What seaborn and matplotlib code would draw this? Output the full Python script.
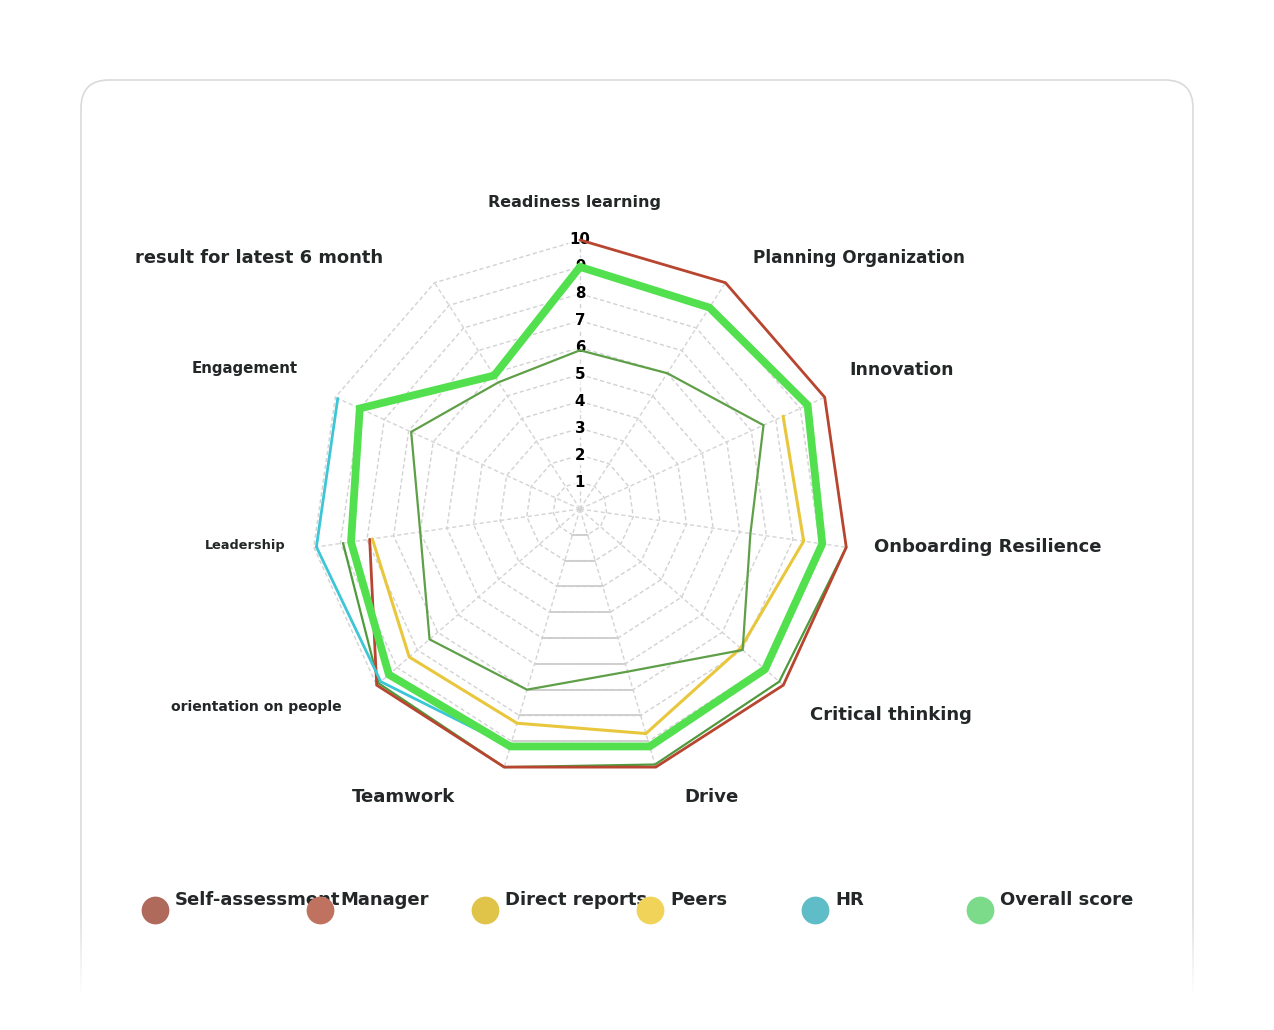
import numpy as np
import pandas as pd
import matplotlib
matplotlib.use("Agg")
import matplotlib.pyplot as plt
from matplotlib.patches import FancyBboxPatch
import seaborn as sns

# ---------------- data ----------------
nan = np.nan
categories = ["Readiness learning", "Planning Organization", "Innovation",
              "Onboarding Resilience", "Critical thinking", "Drive", "Teamwork",
              "orientation on people", "Leadership", "Engagement", ""]
self_assessment = [10, 10, 10, 10, 10, 10, 10, 10, 7.9, nan, nan]
manager = [nan, nan, nan, 10, 9.8, 9.9, 10, 9.9, 8.9, nan, nan]
direct_reports = [nan, nan, 8.3, 8.4, 7.9, 8.7, 8.3, 8.4, 7.8, nan, nan]
peers = [5.9, 6.0, 7.5, 6.4, 8.0, 6.3, 7.0, 7.4, 6.0, 6.9, 5.6]
hr = [9.0, 8.9, 9.3, 9.1, 9.1, 9.2, 9.2, 9.8, 9.9, 9.9, nan]
overall_score = [9.0, 8.9, 9.3, 9.1, 9.1, 9.2, 9.2, 9.4, 8.6, 9.0, 5.9]
series_names = ["Self-assessment", "Manager", "Direct reports", "Peers", "HR", "Overall score"]
tick_values = [1, 2, 3, 4, 5, 6, 7, 8, 9, 10]
tick_labels = ["1", "2", "3", "4", "5", "6", "7", "8", "9", "10"]
title_text = "result for latest 6 month"

# ---------------- styles ----------------
line_colors = ["#b8452f", "#4f9a3c", "#e8c73c", "#5e9f48", "#3cc6d6", "#52e04e"]
line_widths = [2.0, 1.6, 2.2, 1.6, 2.0, 5.6]
draw_order = [1, 0, 2, 3, 4, 5]
legend_colors = ["#b06a5c", "#c07260", "#e0c44a", "#f0d358", "#5ebdc6", "#7bdb8a"]
text_color = "#232727"

sns.set_theme(style="white")
plt.rcParams["font.family"] = ["DejaVu Sans"]

W, H = 1274, 1030
fig = plt.figure(figsize=(W / 100, H / 100), dpi=100)
fig.patch.set_facecolor("white")

# overlay axes in pixel coordinates for card / texts / legend
ax0 = fig.add_axes([0, 0, 1, 1])
ax0.set_xlim(0, W)
ax0.set_ylim(H, 0)
ax0.axis("off")

card = FancyBboxPatch((81, 80), 1112, 960, boxstyle="round,pad=0,rounding_size=28",
                      facecolor="white", edgecolor="#dadada", linewidth=1.2, zorder=1)
ax0.add_patch(card)
# fade the bottom of the card border
grad = np.zeros((100, 2, 4))
grad[..., :3] = 1.0
grad[..., 3] = np.clip(np.linspace(-0.1, 1.4, 100), 0, 1)[:, None]
ax0.imshow(grad, extent=(60, 1214, 1030, 900), aspect="auto", zorder=2,
           interpolation="bilinear")
ax0.set_xlim(0, W)
ax0.set_ylim(H, 0)

# ---------------- radar axes ----------------
cx, cy, R10 = 580, 509, 269
rmax = 11
Rpx = R10 * rmax / 10
ax = fig.add_axes([(cx - Rpx) / W, (H - cy - Rpx) / H, 2 * Rpx / W, 2 * Rpx / H],
                  projection="polar")
ax.set_theta_zero_location("N")
ax.set_theta_direction(-1)
ax.set_ylim(0, rmax)
ax.grid(False)
ax.spines["polar"].set_visible(False)
ax.patch.set_alpha(0)

n = len(categories)
theta = np.arange(n) * 2 * np.pi / n

# grid rings
for t in tick_values:
    tt = np.append(theta, theta[0])
    rr = np.full(n + 1, t)
    ax.plot(tt, rr, color="#d2d2d2", lw=1.0, ls=(0, (3, 2)), zorder=1)
    # solid ring segment in the bottom sector
    ax.plot(theta[5:7], [t, t], color="#cdcdcd", lw=1.3, zorder=1)
# spokes
for th in theta:
    ax.plot([th, th], [0, 10], color="#d4d4d4", lw=1.0, ls=(0, (3, 2)), zorder=1)

# tick labels on first axis
for t, lab in zip(tick_values, tick_labels):
    ax.text(0, t, lab, ha="center", va="center", fontsize=10.8, fontweight="bold",
            color="black", zorder=3,
            bbox=dict(boxstyle="square,pad=0.12", fc="white", ec="none", alpha=0.75))

# series
all_series = [self_assessment, manager, direct_reports, peers, hr, overall_score]
for z, i in enumerate(draw_order):
    vals = np.append(np.array(all_series[i], dtype=float), all_series[i][0])
    th = np.append(theta, 2 * np.pi)
    df = pd.DataFrame({"theta": th, "r": vals})
    mask = df["r"].notna().to_numpy()
    run_id = np.cumsum(~mask)
    for rid in np.unique(run_id[mask]):
        seg = df[(run_id == rid) & mask]
        if len(seg) < 2:
            continue
        sns.lineplot(data=seg, x="theta", y="r", ax=ax, sort=False, estimator=None,
                     color=line_colors[i], linewidth=line_widths[i], zorder=4 + z,
                     solid_joinstyle="miter", clip_on=False)
ax.set_xlabel("")
ax.set_ylabel("")
ax.set_xticks([])
ax.set_yticks([])
ax.set_ylim(0, rmax)

# ---------------- category labels ----------------
label_pos = [(575, 202, "center", 11.5), (753, 258, "left", 12.2), (849, 370, "left", 12.4),
             (874, 547, "left", 13.0), (810, 715, "left", 13.0), (711, 797, "center", 13.1),
             (404, 797, "center", 13.1), (342, 707, "right", 10.1), (286, 545, "right", 9.3),
             (298, 368, "right", 10.8), (436, 270, "center", 9)]
for name, (x, y, ha, fs) in zip(categories, label_pos):
    ax0.text(x, y, name, ha=ha, va="center", fontsize=fs, fontweight="bold",
             color=text_color, zorder=5)

ax0.text(135, 258, title_text, ha="left", va="center", fontsize=12.9,
         fontweight="bold", color=text_color, zorder=5)

# ---------------- legend ----------------
for k, (name, col) in enumerate(zip(series_names, legend_colors)):
    x = 155 + 165 * k
    ax0.text(x + 20, 900, name, ha="left", va="center", fontsize=13.0,
             fontweight="bold", color=text_color, zorder=6)
    ax0.scatter([x], [910], s=400, color=col, zorder=7, linewidths=0)

fig.savefig("out.png", dpi=100, facecolor="white")
